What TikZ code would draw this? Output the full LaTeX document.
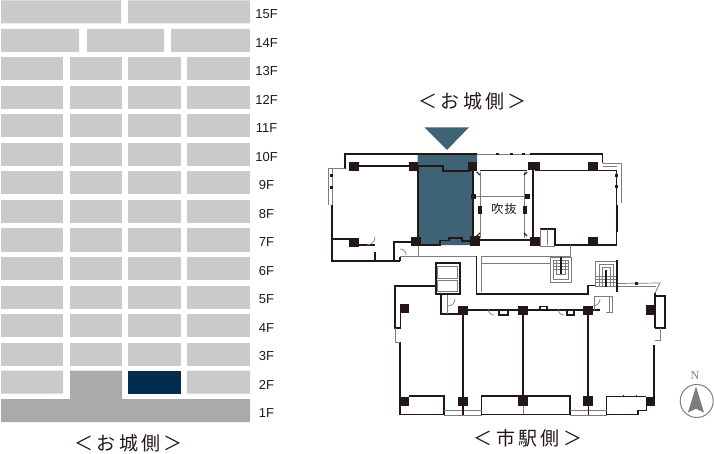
\documentclass[tikz,border=0pt]{standalone}
\usepackage{fontspec}
\setmainfont{Liberation Sans}
\newfontfamily\jpfont[LetterSpace=18]{Noto Sans CJK JP}
\newfontfamily\jpsmall[LetterSpace=10]{Noto Sans CJK JP}
\newfontfamily\northfont{Liberation Serif}
\definecolor{unitgrey}{HTML}{C9CACB}
\definecolor{basegrey}{HTML}{A9AAAA}
\definecolor{navyunit}{HTML}{032D4E}
\definecolor{tealunit}{HTML}{3D6375}
\definecolor{wallblack}{HTML}{231815}
\definecolor{thingrey}{HTML}{7D7D7D}
\tikzset{
  floorlabel/.style={font=\fontsize{13}{13}\selectfont,text=wallblack,inner sep=0pt},
  sidelabel/.style={font=\jpfont\fontsize{19}{19}\selectfont,text=wallblack,inner sep=0pt},
  wall/.style={draw=wallblack,line width=2pt},
  midwall/.style={draw=wallblack,line width=1.1pt},
  thinwall/.style={draw=thingrey,line width=.7pt},
  pillar/.style={fill=wallblack}
}
\begin{document}
\begin{tikzpicture}[x=1pt,y=-1pt]
  \useasboundingbox (0,0) rectangle (714,454);
  % elevation: floors 13F to 3F
  \foreach \k in {2,...,12}
    \foreach \xa/\xb in {1/63,70/122,128/181,187/250}
      \fill[unitgrey] (\xa,0.5+28.5*\k) rectangle (\xb,23.5+28.5*\k);
  % the upper floors and the lower floors
  \fill[unitgrey] (1,0.5) rectangle (121,23.5) (128,0.5) rectangle (250,23.5);
  \fill[unitgrey] (1,29) rectangle (79,52) (87,29) rectangle (164,52) (171,29) rectangle (250,52);
  \fill[unitgrey] (1,370.5) rectangle (63,393.5) (187,370.5) rectangle (250,393.5);
  \fill[navyunit] (128,370.5) rectangle (181,393.5);
  \fill[basegrey] (70,370.5) -- (122,370.5) -- (122,399) -- (250,399) -- (250,422)
    -- (1,422) -- (1,399) -- (70,399) -- cycle;
  \foreach \n [count=\k from 0] in {15,14,...,1}
    \node[floorlabel] (f\n) at (266.5,14.5+28.5*\k) {\n F};
  \node[sidelabel] (sideA) at (128.5,443) {＜お城側＞};
  \node[sidelabel] (sideB) at (472.5,101) {＜お城側＞};
  \node[sidelabel] (sideC) at (528,438) {＜市駅側＞};

  % marker and selected unit
  \fill[tealunit] (424.3,127.3) -- (469,127.3) -- (447,150) -- cycle;
  \fill[tealunit] (417.5,155) -- (477,155) -- (477,165) -- (473,170) -- (473,245) -- (417.5,245) -- cycle;

  % upper block, outer line
  \path[midwall] (345,169) -- (345,154) -- (477,154);
  \path[thinwall] (477,154) -- (530,154);
  \path[midwall] (530,154) -- (602.7,154) -- (602.7,163);
  \path[thinwall] (345,168) -- (328,168) -- (328,205);
  \path[thinwall] (332,168) -- (332,261);
  \path[midwall] (332,205) -- (332,261) -- (400,261);
  \path[thinwall] (603,163) -- (621,163) -- (621,203) (603,166) -- (617,166);
  \path[midwall] (616.7,170) -- (616.7,245) -- (555,245) -- (555,229) -- (540,229);
  \path[wall] (616.7,205) -- (616.7,232);
  % upper block, inner walls
  \path[midwall] (355,166) -- (417,166);
  \path[midwall] (418,166) -- (443,166) -- (443,171) -- (470,171);
  \path[wall] (417.5,166) -- (417.5,245);
  \path[wall] (472.7,168) -- (472.7,240);
  \path[wall] (532.7,168) -- (532.7,240);
  \path[wall] (480,240) -- (530,240);
  \path[midwall] (480,170.7) -- (527,170.7);
  \path[midwall] (535,170.7) -- (616.7,170.7);
  \path[thinwall] (475,196) -- (527,196) (480,172) -- (480,238) (524,172) -- (524,238);
  \path[midwall] (476.7,172) -- (480,175) (476.7,236) -- (480,233) (527,172) -- (524,175) (527,236) -- (524,233);
  \path[midwall] (332,239) -- (354,239) (359,245) -- (375,245) (375,252) -- (375,261);
  \path[midwall] (421,245) -- (440,245) -- (440,240.5) -- (449,240.5) -- (449,238) -- (462,238) -- (462,241) -- (470,241);
  \path[midwall] (400,261) -- (400,257) (394,260) -- (394,242) -- (411,242);
  \path[thinwall] (400,256) -- (477,256) (418,246) -- (418,256) (540,246) -- (555,246);
  \path[thinwall] (540,229) -- (540,246) (547,229) -- (547,245);
  \draw[thinwall] (367,245) arc (90:0:8) (400,249) arc (270:360:6);
  \foreach \xa/\ya/\xb/\yb in {349/162/359/171,409/162/418/171,468/162/477/171,528/162/540/170,
      588/162/598/171,349/238/359/247,411/237/421/246,470/236/480/246,530/237/540/246,588/237/598/245,
      471/194/476/199,525/194/530/199,478/206/482/214,523/206/527/214}
    \fill[pillar] (\xa,\ya) rectangle (\xb,\yb);
  \foreach \xa in {360,385,401,436,446,470,496,510,522,563,586}
    \fill[pillar] (\xa,153) rectangle +(3,2);
  \foreach \ya in {174,186} \fill[pillar] (330,\ya) rectangle +(3,3);
  \foreach \ya in {174,185} \fill[pillar] (615,\ya) rectangle +(3,3);
  \node[font=\jpsmall\fontsize{12}{12}\selectfont,text=wallblack,inner sep=0pt] (voidlabel) at (504,208.5) {吹抜};

  % core, elevators and stairs
  \path[midwall] (476.7,256) -- (476.7,294) -- (588,294) -- (588,285.7) -- (596,285.7);
  \path[thinwall] (481.7,263) -- (550,263) (481.7,256) -- (570,256) (481.7,256) -- (481.7,292) (570,245) -- (570,257);
  \path[wall] (435.7,262.7) rectangle (460,294);
  \path[thinwall] (437.5,266) rectangle (457,278) (437.5,280) rectangle (457,291);
  \path[thinwall] (550,257) rectangle (571.7,282) (553,260) rectangle (568.5,279) (556,260) rectangle (565,274);
  \path[thinwall] (553,263) -- (568,263) (553,266) -- (568,266) (553,269) -- (568,269);
  \path[wall] (561,257) -- (561,274);
  \path[thinwall] (595.7,261) rectangle (616.7,286) (599,264) rectangle (613,286) (602,267) rectangle (610,286);
  \path[thinwall] (596,276) -- (616,276) (596,279) -- (616,279) (596,282) -- (616,282);
  \path[wall] (606,270) -- (606,287);
  \path[wall] (616.7,260) -- (616.7,292);

  % lower block, outer line
  \path[midwall] (435.7,286) -- (395,286) -- (395,328) -- (400.7,328) -- (400.7,310);
  \path[wall] (400.4,342) -- (400.4,415);
  \path[thinwall] (395,328) -- (395,342) -- (400,342);
  \path[thinwall] (618,283.5) -- (660,283) -- (655,293);
  \path[thinwall] (618,286) -- (656,286);
  \path[wall] (655,293) -- (655,328);
  \path[midwall] (655,296) -- (665,296) -- (665,328) -- (655,328);
  \path[thinwall] (660,328) -- (660,340) -- (655,340);
  \path[wall] (654.4,345) -- (654.4,406);
  % lower block, front wall and partitions
  \path[midwall] (441,295) -- (441,314) -- (458,314);
  \path[thinwall] (447,295) -- (447,314);
  \draw[thinwall] (448,306) arc (90:0:7);
  \path[midwall] (468,310) -- (583,310) (593,310) -- (600,310);
  \path[midwall] (499,310) -- (499,315) -- (508,315) -- (508,310);
  \path[midwall] (540,310) -- (540,306.5) -- (547,306.5) -- (547,310);
  \path[midwall] (567,310) -- (567,315) -- (574,315) -- (574,310);
  \path[thinwall] (594,296) -- (612,296) -- (612,312) -- (606,312) (594,296) -- (594,310) (609,296) -- (609,312);
  \draw[thinwall] (488,309) arc (180:90:6) (558,309) arc (180:90:6) (593,306) arc (90:0:7);
  \foreach \xp in {463,523.3,588.3}
    \path[wall] (\xp,315) -- (\xp,397);
  \path[midwall] (409,396) -- (444,396) -- (444,415);
  \path[midwall] (400,414.3) -- (444,414.3);
  \path[midwall] (481.7,415) -- (481.7,396) -- (570,396) -- (570,415);
  \path[midwall] (481.7,414.3) -- (570,414.3);
  \path[midwall] (606.7,415) -- (606.7,396.7) -- (646,396.7);
  \path[midwall] (606.7,414.3) -- (638,414.3) -- (638,410.7) -- (646.7,410.7) -- (646.7,406);
  \path[thinwall] (444,410) -- (481.7,410) (444,415.5) -- (481.7,415.5) (570,410) -- (606.7,410) (570,415.5) -- (606.7,415.5);
  \path[thinwall] (523.3,406) -- (523.3,414);
  \path[midwall] (463,406) -- (463,415) (588.3,406) -- (588.3,415);
  \foreach \xa/\ya/\xb/\yb in {400/304/409/313.3,458.3/305.7/468.3/315,518.3/305.7/528.3/315,583.3/305.7/593.3/315,
      646/305/655/315,400.7/396.7/409/406,458.3/396.7/468.3/406,518.3/396.7/528.3/406,583.3/396/593.3/405.7,646/396.7/655/406}
    \fill[pillar] (\xa,\ya) rectangle (\xb,\yb);
  \foreach \xa in {418,428,434,495,505,540,552,623,636}
    \fill[pillar] (\xa,395.2) rectangle +(1,2);
  \fill[pillar] (635,282) rectangle +(3,3);

  % north mark
  \node[font=\northfont\fontsize{12}{12}\selectfont,text=thingrey,inner sep=0pt] (north) at (695,376) {N};
  \node[circle,draw=thingrey,line width=1pt,minimum size=33pt,inner sep=0pt] (compass) at (696.7,401) {};
  \fill[thingrey] (compass.center) ++(-.7,-14.5) -- ++(8,26) -- ++(-8,-3.7) -- ++(-8,3.7) -- cycle;
\end{tikzpicture}
\end{document}
